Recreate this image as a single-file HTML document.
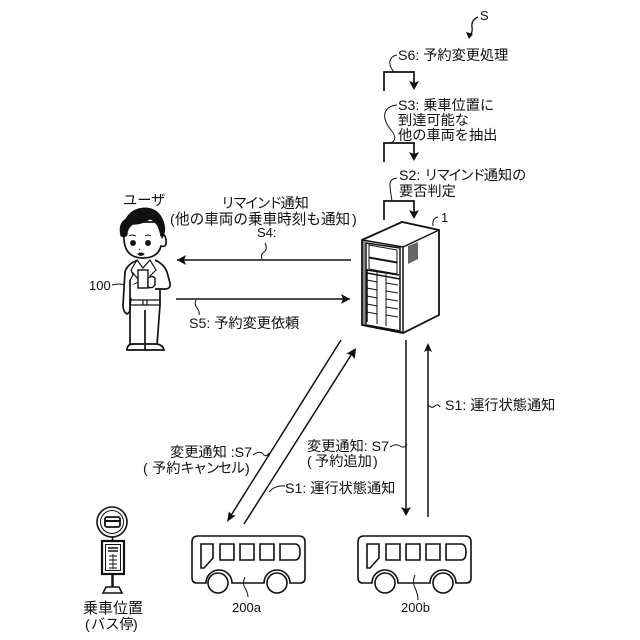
<!DOCTYPE html>
<html><head><meta charset="utf-8"><style>
html,body{margin:0;padding:0;background:#fff}
svg{display:block}
text{font-family:"Liberation Sans","Noto Sans CJK JP",sans-serif;font-size:14.2px;fill:#111}
.k{letter-spacing:-2.3px}
.k2{letter-spacing:-1.6px}
</style></head><body>
<svg width="640" height="640" viewBox="0 0 640 640" xmlns="http://www.w3.org/2000/svg">
<defs><path id="bus" d="M6 0H107Q113 0 113 6V42Q113 47 108 47H98A13 13 0 0 0 72 47H40A13 13 0 0 0 14 47H5Q0 47 0 42V6Q0 0 6 0Z"/>
<path id="win" d="M9 8H21V22L12 32H9ZM28 8H42V24H28ZM48 8H62V24H48ZM68 8H82V24H68ZM88 8H103Q108 8 108 16T103 24H88Z"/></defs>
<g fill="none" stroke="#111" stroke-width="1.3">
<!-- top -->
<path d="M478 17Q471 20 472 27T469 35"/>
<path d="M397 55Q391 56 390 61T394 72M397 105Q387 106 385 113T391 130T390 143M397 178Q390 179 390 184T392 201" stroke-width="1"/>
<path d="M384 91V72H414V86M384 162V143H414V158M384 220V201H414V215" stroke-width="1.7"/>
<!-- server -->
<g stroke-width="1.5">
<path d="M362 240L402 222L439 230V315L403 333L362 325Z" fill="#fff" stroke-width="1.8"/>
<path d="M362 240L403 247L439 230M403 247V333"/>
<path d="M364 240V325L402 332" stroke-width="1"/>
<path d="M366 243L400 248V331L366 325Z" stroke-width="1.5"/>
<path d="M369 245L397 250V262L369 257ZM369 258L397 263V274L369 269Z" stroke-width="1"/>
<path d="M367 270L399 275M367 269V322" stroke-width="1.5"/>
<path d="M367 273L400 279"/>
<path d="M377 272V324M386 274V326M367 280L377 282M367 288L377 290M367 296L377 298M367 304L377 306M367 312L377 314M386 283L398 285M386 291L398 293M386 299L398 301M386 307L398 309M386 315L398 317" stroke-width="1"/>
</g>
<path d="M408 246L418 242V259L408 264Z" fill="#666" stroke="none"/>
<path d="M438 217Q432 218 433 226" stroke-width="1"/>
<!-- arrows -->
<path d="M177 260H351M176 299H350M341 340L230 517M244 524L353 352M406 340V510M428 517V348" stroke-width="1.5"/>
<path d="M265 243Q268 249 264 252T262 259M196 300Q194 304 197 308T199 315M112 285Q120 283 125 285T138 282M269 492Q275 485 285 486M253 455Q260 450 263 454T269 453M390 447Q396 443 400 446T407 444M428 405Q432 409 435 406T440 407" stroke-width="1"/>
<!-- bus -->
<g transform="translate(192,536)" stroke-width="1.6">
<use href="#bus"/><use href="#win"/>
<circle cx="26" cy="47" r="10"/><circle cx="85" cy="47" r="10"/>
<path d="M53 41Q50 47 53 52T56 61" stroke-width="1"/>
</g>
<g transform="translate(358,536)" stroke-width="1.6">
<use href="#bus"/><use href="#win"/>
<circle cx="27" cy="47" r="10"/><circle cx="85" cy="47" r="10"/>
<path d="M57 39Q54 46 57 52T60 64" stroke-width="1"/>
</g>
<!-- bus stop -->
<g stroke-width="1.6">
<circle cx="112" cy="522" r="15"/><circle cx="112" cy="522" r="11.5" stroke-width="1"/>
<rect x="105" y="517" width="15" height="10" rx="2" stroke-width="1.8"/>
<path d="M105 521H120" stroke-width="2"/>
<path d="M112.500 537V541"/>
<path d="M112.500 574V587" stroke-width="2.5"/>
<rect x="102" y="541" width="22" height="33" stroke-width="2.2"/>
<rect x="105.500" y="544.500" width="15" height="26" stroke-width="1"/>
<path d="M108 548H118M108 551H118" stroke-width="1.5"/>
<path d="M113 554V569M109 556H117M109 560H117M109 564H117M109 568H117" stroke-width="0.9"/>
<path d="M103 593L106 587H119L122 593Z"/>
</g>
<!-- person -->
<g stroke-width="1.7">
<path d="M138 260Q127 264 125 272L123 305Q123 312 127 314Q131 312 130 305L131 298" fill="#fff"/>
<path d="M155 260Q164 264 167 272L170 283Q171 289 165 289L155 289" fill="#fff"/>
<path d="M130 280V305M160 289V305"/>
<path d="M130 300H160V305H130ZM143 300V305M147 300V305" stroke-width="1.2"/>
<path d="M130 305L130 345M160 305L157 345M145 310V349"/>
<path d="M127 350Q127 344 133 344H157Q163 345 164 350Z" fill="#fff"/>
<path d="M145 345V350"/>
<path d="M137 260L131 270L133 275L130 280M137 260L143 268L150 260L156 270L150 276M132 272L138 279" stroke-width="1.2"/>
<rect x="138" y="270" width="10" height="18" fill="#fff" stroke-width="1.4"/>
<path d="M148 278Q152 275 155 278V285Q152 289 148 287Z" fill="#fff" stroke-width="1.4"/>
<path d="M124 232Q122 258 143 258Q158 258 161 246Q167 248 166 240Q165 233 161 235L160 222L130 222Z" fill="#fff"/>
<path d="M121 236Q118 224 126 219Q132 208 146 208Q160 209 164 224Q166 232 162 238Q160 232 158 226Q154 220 150 219Q140 225 133 224Q127 228 127 235Q124 238 121 236Z" fill="#111" stroke-width="1"/>
</g>
<circle cx="133" cy="243" r="2.300" fill="#111"/>
<circle cx="148" cy="243" r="2.300" fill="#111"/>
<path d="M129 236Q132 234 136 236M145 236Q148 234 151 236M139 249L140 250" stroke-width="1"/>
<path d="M138 254Q141 252 144 254Q141 257 138 254Z" fill="#111" stroke-width="1"/>
</g>
<!-- arrowheads -->
<g fill="#111">
<path d="M469 39L466 32L473 34Z"/>
<path d="M414 90L409 81L414 83L419 81Z"/>
<path d="M414 161L409 152L414 154L419 152Z"/>
<path d="M414 219L409 210L414 212L419 210Z"/>
<path d="M177 260L186 255L184 260L186 265Z"/>
<path d="M350 299L341 294L343 299L341 304Z"/>
<path d="M227 522L228.900 511.400L232 515L235.700 515.600Z"/>
<path d="M356 348L354.800 359.100L351.500 355L346.400 353.700Z"/>
<path d="M406 516L401 507L406 509L411 507Z"/>
<path d="M428 343L424 352L428 350L432 352Z"/>
</g>
<!-- labels -->
<text x="480" y="20" style="font-size:13px">S</text>
<text x="398" y="60">S6: 予約変更処理</text>
<text x="398" y="110">S3: 乗車位置に</text>
<text x="398" y="125">到達可能な</text>
<text x="398" y="140">他の車両を抽出</text>
<text x="399" y="180">S2: <tspan class="k">リマインド</tspan>通知の</text>
<text x="399" y="196">要否判定</text>
<text x="441" y="222" style="font-size:13px">1</text>
<text x="123" y="205">ユーザ</text>
<text x="221" y="208"><tspan class="k">リマインド</tspan>通知</text>
<text x="170" y="224">(</text><text x="175" y="224" style="font-size:14.6px">他の車両の乗車時刻も通知</text><text x="352" y="224">)</text>
<text x="257" y="237" style="font-size:13px">S4:</text>
<text x="89" y="290" style="font-size:13px">100</text>
<text x="189" y="328">S5: 予約変更依頼</text>
<text x="170" y="457">変更通知 :S7</text>
<text x="143" y="473">(</text><text x="152" y="473">予約<tspan class="k2">キャンセル</tspan></text><text x="245" y="473">)</text>
<text x="307" y="451">変更通知: S7</text>
<text x="307" y="466">(</text><text x="315" y="466">予約追加</text><text x="373" y="466">)</text>
<text x="285" y="493">S1: 運行状態通知</text>
<text x="445" y="410">S1: 運行状態通知</text>
<text x="232" y="612" style="font-size:13px">200a</text>
<text x="401" y="612" style="font-size:13px">200b</text>
<text x="83" y="613" style="font-size:15px">乗車位置</text>
<text x="85" y="629">(</text><text x="91" y="629">バス停</text><text x="133" y="629">)</text>
</svg>
</body></html>
